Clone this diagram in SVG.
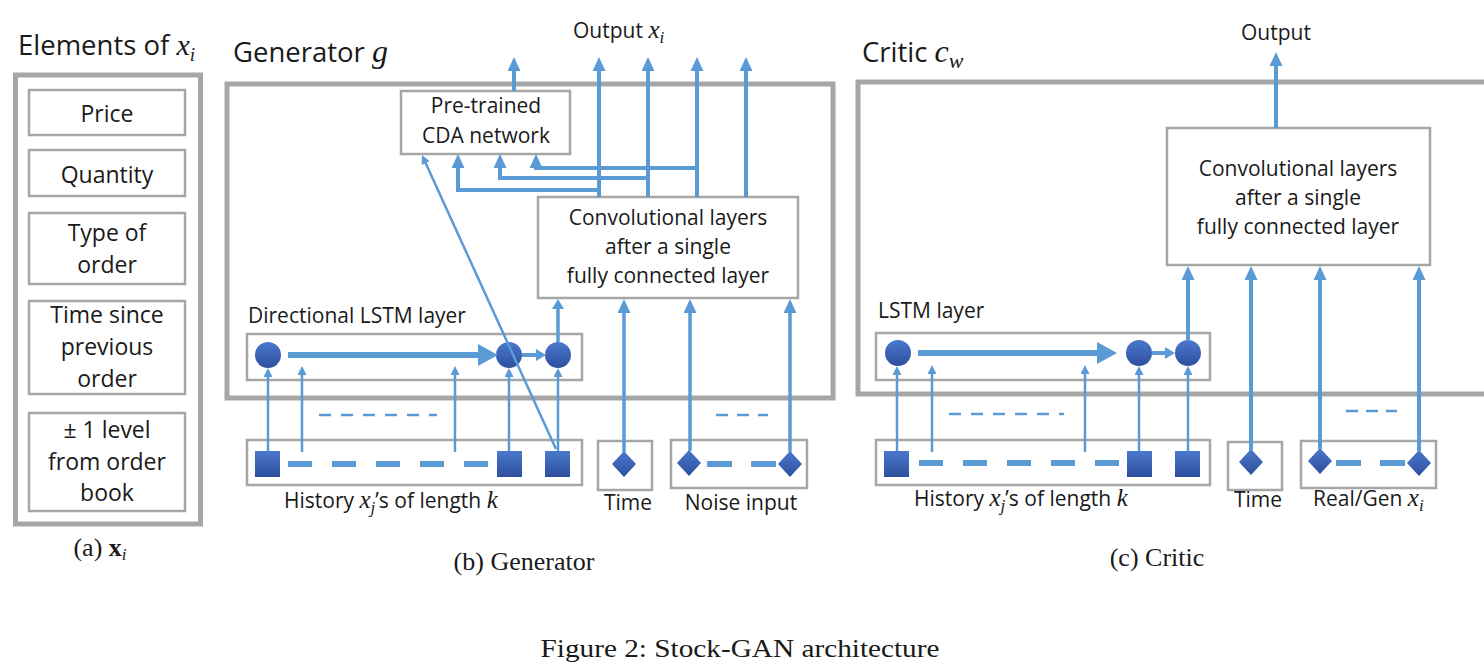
<svg xmlns="http://www.w3.org/2000/svg" width="1484" height="671" viewBox="0 0 1484 671">
<style>
.box{fill:#fff;stroke:#a6a6a6;stroke-width:2.5}
.outer{fill:none;stroke:#a6a6a6;stroke-width:5}
.t{font-family:"Open Sans","Noto Sans",sans-serif;font-size:21px;fill:#1a1a1a}
.tl{font-size:23px}
.title{font-size:27.5px}
.c{text-anchor:middle}
.m{font-family:"Liberation Serif","DejaVu Serif",serif;font-style:italic}
.cap{font-family:"Liberation Serif","Times New Roman",serif;font-size:26px;fill:#1a1a1a;text-anchor:middle}
.ln{fill:none;stroke:#5b9bd5;stroke-width:4}
.md{fill:none;stroke:#5b9bd5;stroke-width:3.5}
.th{fill:none;stroke:#5b9bd5;stroke-width:2.5}
.dT{fill:none;stroke:#5b9bd5;stroke-width:6;stroke-dasharray:24 20}
.dN{fill:none;stroke:#5b9bd5;stroke-width:6;stroke-dasharray:25 19}
.ds{fill:none;stroke:#5b9bd5;stroke-width:2.5;stroke-dasharray:12 10}
.nd{fill:url(#ng)}
</style>
<defs>
<linearGradient id="ng" x1="0" y1="0" x2="0" y2="1"><stop offset="0" stop-color="#4a78cc"/><stop offset="1" stop-color="#2e4f9e"/></linearGradient>
<marker id="ah" viewBox="0 0 14 13" markerUnits="userSpaceOnUse" markerWidth="14" markerHeight="13" refX="1" refY="6.5" orient="auto"><path d="M0,0L14,6.5L0,13z" fill="#5b9bd5"/></marker>
<marker id="as" viewBox="0 0 9 9" markerUnits="userSpaceOnUse" markerWidth="9" markerHeight="9" refX="1" refY="4.5" orient="auto"><path d="M0,0L9,4.5L0,9z" fill="#5b9bd5"/></marker>
<marker id="am" viewBox="0 0 10 12" markerUnits="userSpaceOnUse" markerWidth="10" markerHeight="12" refX="1" refY="6" orient="auto"><path d="M0,0L10,6L0,12z" fill="#5b9bd5"/></marker>
<marker id="ab" viewBox="0 0 20 22" markerUnits="userSpaceOnUse" markerWidth="20" markerHeight="22" refX="1" refY="11" orient="auto"><path d="M0,0L20,11L0,22z" fill="#5b9bd5"/></marker>
</defs>
<rect x="0" y="0" width="1484" height="671" fill="#fff"/>

<!-- (a) Elements -->
<g id="elements">
<text class="t title" x="18" y="55">Elements of <tspan class="m" font-size="30">x</tspan><tspan class="m" font-size="19" dy="6">i</tspan></text>
<rect class="outer" x="15.5" y="75" width="185" height="449"/>
</g>
<g id="el-price"><rect class="box" x="29" y="90" width="156" height="45"/><text class="t tl c" x="107" y="122">Price</text></g>
<g id="el-qty"><rect class="box" x="29" y="150" width="156" height="46"/><text class="t tl c" x="107" y="183">Quantity</text></g>
<g id="el-type"><rect class="box" x="29" y="213" width="156" height="71"/><text class="t tl c" x="107" y="241">Type of</text><text class="t tl c" x="107" y="273">order</text></g>
<g id="el-time"><rect class="box" x="29" y="301" width="156" height="93"/><text class="t tl c" x="107" y="323">Time since</text><text class="t tl c" x="107" y="355">previous</text><text class="t tl c" x="107" y="387">order</text></g>
<g id="el-level"><rect class="box" x="29" y="413" width="156" height="98"/><text class="t tl c" x="107" y="438">± 1 level</text><text class="t tl c" x="107" y="470">from order</text><text class="t tl c" x="107" y="501">book</text></g>

<!-- (b) Generator -->
<g id="generator">
<text class="t title" x="233" y="62">Generator <tspan class="m" font-size="32">g</tspan></text>
<rect class="outer" x="227" y="84" width="606" height="314"/>
</g>
<g id="gen-output-label"><text class="t" x="573" y="38">Output <tspan class="m" font-size="25">x</tspan><tspan class="m" font-size="17" dy="5">i</tspan></text></g>
<g id="gen-cda"><rect class="box" x="401" y="91" width="169" height="63"/><text class="t c" x="486" y="113">Pre-trained</text><text class="t c" x="486" y="143">CDA network</text></g>
<g id="gen-conv"><rect class="box" x="538" y="197" width="260" height="101"/><text class="t c" x="668" y="225">Convolutional layers</text><text class="t c" x="668" y="254">after a single</text><text class="t c" x="668" y="283">fully connected layer</text></g>
<g id="gen-lstm">
<text class="t" x="248" y="323">Directional LSTM layer</text>
<rect class="box" x="247" y="334" width="335" height="46"/>
<circle class="nd" cx="268" cy="355" r="13"/><circle class="nd" cx="509" cy="355" r="13"/><circle class="nd" cx="558" cy="355" r="13"/>
</g>
<g id="gen-history">
<rect class="box" x="247" y="440" width="335" height="45"/>
<rect class="nd" x="255" y="451" width="25" height="26"/><rect class="nd" x="497" y="451" width="25" height="26"/><rect class="nd" x="545" y="451" width="25" height="26"/>
<text class="t" x="284" y="508">History <tspan class="m" font-size="25">x</tspan><tspan class="m" font-size="17" dy="5">j</tspan><tspan dy="-5">’s of length </tspan><tspan class="m" font-size="25">k</tspan></text>
</g>
<g id="gen-time">
<rect class="box" x="598" y="441" width="54" height="49"/>
<polygon class="nd" points="624,451 636,464 624,477 612,464"/>
<text class="t c" x="628" y="510">Time</text>
</g>
<g id="gen-noise">
<rect class="box" x="671" y="440" width="136" height="48"/>
<polygon class="nd" points="689,450 701,463 689,476 677,463"/>
<polygon class="nd" points="790,451 802,464 790,477 778,464"/>
<text class="t c" x="741" y="510">Noise input</text>
</g>

<!-- (c) Critic -->
<g id="critic">
<text class="t title" x="862" y="62">Critic <tspan class="m" font-size="32">c</tspan><tspan class="m" font-size="22" dy="6">w</tspan></text>
<rect class="outer" x="858" y="82" width="700" height="312"/>
</g>
<g id="crit-output-label"><text class="t c" x="1276" y="40">Output</text></g>
<g id="crit-conv"><rect class="box" x="1167" y="128" width="263" height="137"/><text class="t c" x="1298" y="176">Convolutional layers</text><text class="t c" x="1298" y="205">after a single</text><text class="t c" x="1298" y="234">fully connected layer</text></g>
<g id="crit-lstm">
<text class="t" x="878" y="318">LSTM layer</text>
<rect class="box" x="876" y="333" width="334" height="47"/>
<circle class="nd" cx="898" cy="353" r="13"/><circle class="nd" cx="1139" cy="353" r="13"/><circle class="nd" cx="1188" cy="353" r="13"/>
</g>
<g id="crit-history">
<rect class="box" x="876" y="440" width="334" height="45"/>
<rect class="nd" x="884" y="451" width="25" height="26"/><rect class="nd" x="1127" y="451" width="25" height="26"/><rect class="nd" x="1175" y="451" width="25" height="26"/>
<text class="t" x="914" y="506">History <tspan class="m" font-size="25">x</tspan><tspan class="m" font-size="17" dy="5">j</tspan><tspan dy="-5">’s of length </tspan><tspan class="m" font-size="25">k</tspan></text>
</g>
<g id="crit-time">
<rect class="box" x="1228" y="442" width="54" height="48"/>
<polygon class="nd" points="1251,449 1263,462 1251,475 1239,462"/>
<text class="t c" x="1258" y="507">Time</text>
</g>
<g id="crit-realgen">
<rect class="box" x="1301" y="441" width="135" height="47"/>
<polygon class="nd" points="1320,448 1332,461 1320,474 1308,461"/>
<polygon class="nd" points="1419,450 1431,463 1419,476 1407,463"/>
<text class="t" x="1313" y="506">Real/Gen <tspan class="m" font-size="25">x</tspan><tspan class="m" font-size="17" dy="5">i</tspan></text>
</g>

<!-- connectors -->
<g id="connectors">
<line class="ln" x1="514" y1="91" x2="514" y2="70" marker-end="url(#ah)"/>
<line class="ln" x1="599" y1="197" x2="599" y2="70" marker-end="url(#ah)"/>
<line class="ln" x1="648" y1="197" x2="648" y2="70" marker-end="url(#ah)"/>
<line class="ln" x1="697" y1="197" x2="697" y2="70" marker-end="url(#ah)"/>
<line class="ln" x1="746" y1="197" x2="746" y2="70" marker-end="url(#ah)"/>
<path class="ln" d="M599,190H458V167" marker-end="url(#ah)"/>
<path class="ln" d="M648,178H500V167" marker-end="url(#ah)"/>
<path class="ln" d="M697,168H536V167" marker-end="url(#ah)"/>
<line class="th" x1="556" y1="449" x2="425.3" y2="162.3" marker-end="url(#as)"/>
<line stroke="#5b9bd5" stroke-width="6" x1="288" y1="355" x2="479" y2="355" marker-end="url(#ab)"/>
<line class="ln" x1="522" y1="355" x2="537" y2="355" marker-end="url(#am)"/>
<line class="md" x1="558" y1="342" x2="558" y2="308" marker-end="url(#am)"/>
<line class="th" x1="268" y1="451" x2="268" y2="376" marker-end="url(#as)"/>
<line class="th" x1="302" y1="452" x2="302" y2="374" marker-end="url(#as)"/>
<line class="th" x1="455" y1="452" x2="455" y2="374" marker-end="url(#as)"/>
<line class="th" x1="509" y1="451" x2="509" y2="376" marker-end="url(#as)"/>
<line class="th" x1="558" y1="451" x2="558" y2="376" marker-end="url(#as)"/>
<line class="ds" x1="319" y1="415" x2="437" y2="415"/>
<line class="dT" x1="288" y1="464" x2="497" y2="464"/>
<line class="md" x1="624" y1="452" x2="624" y2="312" marker-end="url(#ah)"/>
<line class="md" x1="690" y1="451" x2="690" y2="312" marker-end="url(#ah)"/>
<line class="md" x1="790" y1="452" x2="790" y2="312" marker-end="url(#ah)"/>
<line class="ds" x1="716" y1="415" x2="768" y2="415" style="stroke-dasharray:12 9"/>
<line class="dN" x1="707" y1="464" x2="778" y2="464"/>
<line class="ln" x1="1276" y1="128" x2="1276" y2="65" marker-end="url(#ah)"/>
<line class="ln" x1="1188" y1="341" x2="1188" y2="279" marker-end="url(#ah)"/>
<line class="ln" x1="1251" y1="450" x2="1251" y2="279" marker-end="url(#ah)"/>
<line class="ln" x1="1320" y1="449" x2="1320" y2="279" marker-end="url(#ah)"/>
<line class="ln" x1="1419" y1="451" x2="1419" y2="279" marker-end="url(#ah)"/>
<line stroke="#5b9bd5" stroke-width="6" x1="918" y1="353" x2="1098" y2="353" marker-end="url(#ab)"/>
<line class="ln" x1="1152" y1="353" x2="1166" y2="353" marker-end="url(#am)"/>
<line class="th" x1="897" y1="451" x2="897" y2="374" marker-end="url(#as)"/>
<line class="th" x1="932" y1="452" x2="932" y2="373" marker-end="url(#as)"/>
<line class="th" x1="1085" y1="452" x2="1085" y2="373" marker-end="url(#as)"/>
<line class="th" x1="1139" y1="451" x2="1139" y2="374" marker-end="url(#as)"/>
<line class="th" x1="1188" y1="451" x2="1188" y2="374" marker-end="url(#as)"/>
<line class="ds" x1="949" y1="414" x2="1064" y2="414"/>
<line class="dT" x1="919" y1="463" x2="1127" y2="463"/>
<line class="ds" x1="1346" y1="411" x2="1397" y2="411" style="stroke-dasharray:12 8"/>
<line class="dN" x1="1336" y1="463" x2="1407" y2="463"/>
</g>

<!-- captions -->
<text class="cap" x="100" y="556">(a) <tspan font-weight="bold">x</tspan><tspan font-style="italic" font-size="17" dy="4">i</tspan></text>
<text class="cap" x="524" y="570">(b) Generator</text>
<text class="cap" x="1157" y="566">(c) Critic</text>
<text class="cap" x="740" y="657" font-size="30" textLength="399" lengthAdjust="spacingAndGlyphs">Figure 2: Stock-GAN architecture</text>
</svg>
